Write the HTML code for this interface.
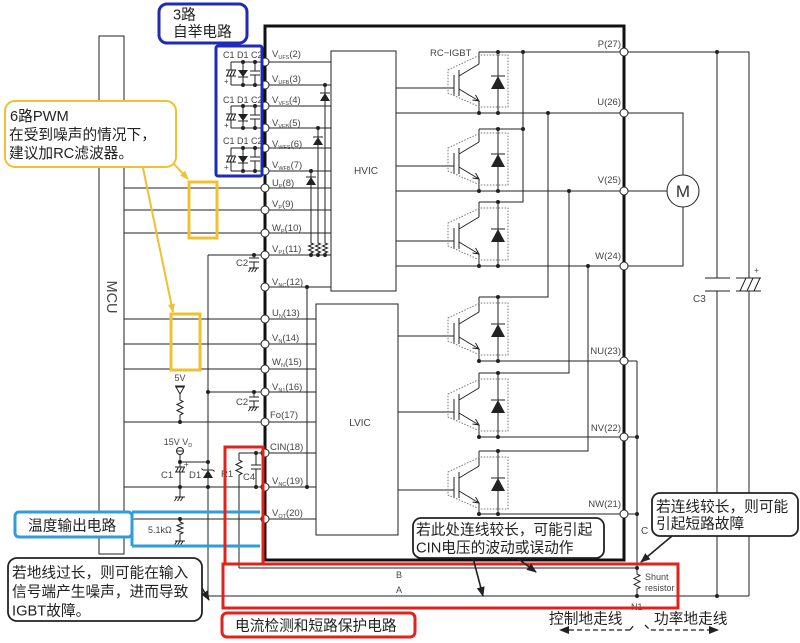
<!DOCTYPE html>
<html><head><meta charset="utf-8"><style>
html,body{margin:0;padding:0;background:#fff;}
svg{display:block;}
.cj{font-family:"Liberation Sans","Noto Sans CJK SC",sans-serif;font-size:14.7px;fill:#222;}
.lb{font-family:"Liberation Sans",sans-serif;font-size:9.5px;fill:#444;}
</style></head><body>
<svg width="800" height="643" viewBox="0 0 800 643" xmlns="http://www.w3.org/2000/svg">
<defs>
<marker id="ab" markerWidth="10" markerHeight="8" refX="9" refY="4" orient="auto" markerUnits="userSpaceOnUse"><path d="M0 0L10 4L0 8Z" fill="#222"/></marker>
<marker id="ay" markerWidth="9" markerHeight="7" refX="8" refY="3.5" orient="auto" markerUnits="userSpaceOnUse"><path d="M0 0L9 3.5L0 7Z" fill="#f0c030"/></marker>
<g id="ig">
<path d="M454 -13V8M459 -18V8M459 -12L479 -24M459 1L479 13M491 -12H505M472.5 12L479 13L475.5 7" fill="none" stroke="#222" stroke-width="1"/>
<path d="M491 1H505L498 -12Z" fill="#222"/>
<path d="M448 -18L480 -33H508V19H480L448 5Z" fill="none" stroke="#777" stroke-width="1" stroke-dasharray="1.5 1.5"/>
</g>
</defs>
<rect width="800" height="643" fill="#fff"/>

<!-- thin wiring -->
<g stroke="#222" stroke-width="1" fill="none">
<rect x="99" y="36" width="25" height="518"/>
<rect x="331" y="51" width="65" height="240"/>
<rect x="316" y="304" width="82" height="231"/>
<!-- pin lines 2-7 -->
<path d="M231 62H331M231 85H331M231 106H331M231 128H331M231 148H331M231 171H331"/>
<!-- MCU lines -->
<path d="M124 188H331M124 210H331M124 233H331M124 319H316M124 344H316M124 369H316M124 422H316M124 487H316M124 519H316"/>
<path d="M208 255H331M265 287H331M208 392H316M239 453H316"/>
<path d="M208 255V470M208 478V596M307 287V487"/>
<!-- bootstrap diode columns -->
<path d="M325 85V243l2.5 1l-5 2l5 2l-5 2l5 2l-2.5 1V255M318 128V243l2.5 1l-5 2l5 2l-5 2l5 2l-2.5 1V255M311 171V243l2.5 1l-5 2l5 2l-5 2l5 2l-2.5 1V255"/>
<path d="M320 93H330M313 137H323M306 177H316"/>
<!-- bootstrap groups -->
<path d="M231 62V70M231 76V85M226 70H236M226 76H236M227 76L229.5 70M230 76L232.5 70M233 76L235.5 70M243 62V85M238 77H248M255 62V71M255 75V85M250 71H260M250 75H260"/>
<path d="M231 106V114M231 120V128M226 114H236M226 120H236M227 120L229.5 114M230 120L232.5 114M233 120L235.5 114M243 106V128M238 121H248M255 106V115M255 119V128M250 115H260M250 119H260"/>
<path d="M231 148V156M231 162V171M226 156H236M226 162H236M227 162L229.5 156M230 162L232.5 156M233 162L235.5 156M243 148V171M238 163H248M255 148V157M255 161V171M250 157H260M250 161H260"/>
<!-- C2s -->
<path d="M254 255V258M249 258H259M249 262H259M254 262V268M249 268H259M251 268l-2.5 4M254 268l-2.5 4M257 268l-2.5 4"/>
<path d="M254 392V397M249 397H259M249 401H259M254 401V407M249 407H259M251 407l-2.5 4M254 407l-2.5 4M257 407l-2.5 4"/>
<!-- 5V -->
<path d="M175 386H185M176 387H184L180 394ZM180 394V400l3 1.5l-6 3l6 3l-6 3l6 3l-3 1.5V422"/>
<!-- 15V VD, C1, D1 -->
<circle cx="180" cy="451" r="3.5"/>
<path d="M176.5 451H183.5M180 454.5V462H208M180 462V467M175 467H185M175 472H185M176 472L178.5 467M179 472L181.5 467M182 472L184.5 467M180 472V497M175 497H185M177 497l-2.5 4M180 497l-2.5 4M183 497l-2.5 4"/>
<path d="M203 470H213M203 470l-1.5-1.5M213 470l1.5 1.5"/>
<!-- 5.1k -->
<path d="M180 519V522l3 1.2l-6 2.4l6 2.4l-6 2.4l6 2.4l-3 1.2V541M175 541H185M177 541l-2.5 4M180 541l-2.5 4M183 541l-2.5 4"/>
<!-- R1 C4 -->
<path d="M239 453V460l3 1.5l-6 3l6 3l-6 3l6 3l-3 1.5V568M256 453V465M251 465H261M251 469H261M256 469V487"/>
<!-- bottom lines -->
<path d="M239 568H637M208 596H749M637 361V574l3 1.5l-6 3l6 3l-6 3l6 3l-3 1.5V596"/>
<!-- gate lines -->
<path d="M396 88H454M396 166H454M396 241H454M398 336H454M398 412H454M398 490H454"/>
<!-- power lines -->
<path d="M479 52H749V278M749 291V596M717 52V278M717 291V596M705 278H730M705 291H730M736 278H761M736 291H761M740 291L746 278M747 291L753 278M754 291L760 278"/>
<path d="M396 113H683V175M396 191H667M396 266H683V207"/>
<path d="M479 129H523M523 52V202H479M548 113V297H479M569 191V373H479M588 266V451H479"/>
<path d="M479 361H637M479 437H637M479 514H637"/>
<path d="M479 52V64M479 101V113M498 52V113M479 129V142M479 179V191M498 129V191M479 202V217M479 254V266M498 202V266M479 297V312M479 349V361M498 297V361M479 373V388M479 425V437M498 373V437M479 451V466M479 503V514M498 451V514"/>
<circle cx="683" cy="191" r="16"/>
</g>
<!-- filled diode triangles -->
<g fill="#222">
<path d="M320 101H330L325 93ZM313 145H323L318 137ZM306 185H316L311 177Z"/>
<path d="M238 70H248L243 77ZM238 114H248L243 121ZM238 156H248L243 163Z"/>
<path d="M203 478H213L208 470Z"/>
</g>
<use href="#ig" transform="translate(0,88)"/>
<use href="#ig" transform="translate(0,166)"/>
<use href="#ig" transform="translate(0,241)"/>
<use href="#ig" transform="translate(0,336)"/>
<use href="#ig" transform="translate(0,412)"/>
<use href="#ig" transform="translate(0,490)"/>

<!-- module thick box -->
<rect x="265" y="26" width="359" height="534" fill="none" stroke="#111" stroke-width="3"/>

<!-- dots -->
<g fill="#222">
<circle cx="243" cy="62" r="2"/><circle cx="255" cy="62" r="2"/><circle cx="243" cy="85" r="2"/><circle cx="255" cy="85" r="2"/>
<circle cx="243" cy="106" r="2"/><circle cx="255" cy="106" r="2"/><circle cx="243" cy="128" r="2"/><circle cx="255" cy="128" r="2"/>
<circle cx="243" cy="148" r="2"/><circle cx="255" cy="148" r="2"/><circle cx="243" cy="171" r="2"/><circle cx="255" cy="171" r="2"/>
<circle cx="325" cy="85" r="2"/><circle cx="318" cy="128" r="2"/><circle cx="311" cy="171" r="2"/>
<circle cx="311" cy="255" r="2"/><circle cx="318" cy="255" r="2"/><circle cx="325" cy="255" r="2"/>
<circle cx="254" cy="255" r="2"/><circle cx="307" cy="287" r="2"/><circle cx="307" cy="487" r="2"/>
<circle cx="208" cy="392" r="2"/><circle cx="254" cy="392" r="2"/><circle cx="180" cy="422" r="2"/>
<circle cx="180" cy="462" r="2"/><circle cx="208" cy="462" r="2"/><circle cx="180" cy="487" r="2"/><circle cx="208" cy="487" r="2"/>
<circle cx="256" cy="453" r="2"/><circle cx="256" cy="487" r="2"/><circle cx="180" cy="519" r="2"/>
<circle cx="498" cy="52" r="2"/><circle cx="523" cy="52" r="2"/><circle cx="523" cy="129" r="2"/><circle cx="498" cy="129" r="2"/>
<circle cx="479" cy="113" r="2"/><circle cx="498" cy="113" r="2"/><circle cx="548" cy="113" r="2"/>
<circle cx="479" cy="191" r="2"/><circle cx="498" cy="191" r="2"/><circle cx="569" cy="191" r="2"/>
<circle cx="498" cy="202" r="2"/><circle cx="479" cy="266" r="2"/><circle cx="498" cy="266" r="2"/><circle cx="588" cy="266" r="2"/>
<circle cx="498" cy="297" r="2"/><circle cx="479" cy="361" r="2"/><circle cx="498" cy="361" r="2"/>
<circle cx="498" cy="373" r="2"/><circle cx="479" cy="437" r="2"/><circle cx="498" cy="437" r="2"/><circle cx="637" cy="437" r="2"/>
<circle cx="498" cy="451" r="2"/><circle cx="479" cy="514" r="2"/><circle cx="498" cy="514" r="2"/><circle cx="637" cy="514" r="2"/>
<circle cx="717" cy="52" r="2"/><circle cx="637" cy="568" r="2"/><circle cx="637" cy="596" r="2"/><circle cx="717" cy="596" r="2"/>
</g>

<!-- pin circles -->
<g fill="#fff" stroke="#222" stroke-width="1">
<circle cx="265" cy="62" r="4"/><circle cx="265" cy="85" r="4"/><circle cx="265" cy="106" r="4"/><circle cx="265" cy="128" r="4"/>
<circle cx="265" cy="148" r="4"/><circle cx="265" cy="171" r="4"/><circle cx="265" cy="188" r="4"/><circle cx="265" cy="210" r="4"/>
<circle cx="265" cy="233" r="4"/><circle cx="265" cy="255" r="4"/><circle cx="265" cy="287" r="4"/><circle cx="265" cy="319" r="4"/>
<circle cx="265" cy="344" r="4"/><circle cx="265" cy="369" r="4"/><circle cx="265" cy="392" r="4"/><circle cx="265" cy="422" r="4"/>
<circle cx="265" cy="453" r="4"/><circle cx="265" cy="487" r="4"/><circle cx="265" cy="519" r="4"/>
<circle cx="624" cy="52" r="4"/><circle cx="624" cy="113" r="4"/><circle cx="624" cy="191" r="4"/><circle cx="624" cy="266" r="4"/>
<circle cx="624" cy="361" r="4"/><circle cx="624" cy="437" r="4"/><circle cx="624" cy="514" r="4"/>
</g>

<!-- pin labels -->
<g class="lb">
<text x="272" y="57">V<tspan font-size="5.5" dy="2">UFS</tspan><tspan dy="-2">(2)</tspan></text>
<text x="272" y="82">V<tspan font-size="5.5" dy="2">UFB</tspan><tspan dy="-2">(3)</tspan></text>
<text x="272" y="103">V<tspan font-size="5.5" dy="2">VFS</tspan><tspan dy="-2">(4)</tspan></text>
<text x="272" y="126">V<tspan font-size="5.5" dy="2">VFB</tspan><tspan dy="-2">(5)</tspan></text>
<text x="272" y="147">V<tspan font-size="5.5" dy="2">WFS</tspan><tspan dy="-2">(6)</tspan></text>
<text x="272" y="168">V<tspan font-size="5.5" dy="2">WFB</tspan><tspan dy="-2">(7)</tspan></text>
<text x="272" y="186">U<tspan font-size="5.5" dy="2">P</tspan><tspan dy="-2">(8)</tspan></text>
<text x="272" y="207">V<tspan font-size="5.5" dy="2">P</tspan><tspan dy="-2">(9)</tspan></text>
<text x="272" y="231">W<tspan font-size="5.5" dy="2">P</tspan><tspan dy="-2">(10)</tspan></text>
<text x="272" y="252">V<tspan font-size="5.5" dy="2">P1</tspan><tspan dy="-2">(11)</tspan></text>
<text x="272" y="285">V<tspan font-size="5.5" dy="2">NC</tspan><tspan dy="-2">(12)</tspan></text>
<text x="272" y="316">U<tspan font-size="5.5" dy="2">N</tspan><tspan dy="-2">(13)</tspan></text>
<text x="272" y="341">V<tspan font-size="5.5" dy="2">N</tspan><tspan dy="-2">(14)</tspan></text>
<text x="272" y="365">W<tspan font-size="5.5" dy="2">N</tspan><tspan dy="-2">(15)</tspan></text>
<text x="272" y="390">V<tspan font-size="5.5" dy="2">N1</tspan><tspan dy="-2">(16)</tspan></text>
<text x="270" y="418">Fo(17)</text>
<text x="270" y="450">CIN(18)</text>
<text x="272" y="484">V<tspan font-size="5.5" dy="2">NC</tspan><tspan dy="-2">(19)</tspan></text>
<text x="272" y="516">V<tspan font-size="5.5" dy="2">OT</tspan><tspan dy="-2">(20)</tspan></text>
<text x="621" y="47" text-anchor="end">P(27)</text>
<text x="621" y="105" text-anchor="end">U(26)</text>
<text x="621" y="183" text-anchor="end">V(25)</text>
<text x="621" y="259" text-anchor="end">W(24)</text>
<text x="621" y="354" text-anchor="end">NU(23)</text>
<text x="621" y="431" text-anchor="end">NV(22)</text>
<text x="621" y="507" text-anchor="end">NW(21)</text>
<text x="223" y="58" font-size="9">C1 D1 C2</text>
<text x="223" y="103" font-size="9">C1 D1 C2</text>
<text x="223" y="144" font-size="9">C1 D1 C2</text>
<text x="224" y="84" font-size="8">+</text>
<text x="224" y="128" font-size="8">+</text>
<text x="224" y="170" font-size="8">+</text>
<text x="236" y="266">C2</text>
<text x="236" y="405">C2</text>
<text x="180" y="381" text-anchor="middle" font-size="9">5V</text>
<text x="178" y="445" text-anchor="middle" font-size="9">15V V<tspan font-size="5.5" dy="2">D</tspan></text>
<text x="184" y="467" font-size="8">+</text>
<text x="161" y="478">C1</text>
<text x="189" y="478">D1</text>
<text x="221" y="477">R1</text>
<text x="243" y="480">C4</text>
<text x="148" y="533" font-size="9">5.1kΩ</text>
<text x="430" y="56">RC−IGBT</text>
<text x="366" y="174" text-anchor="middle" font-size="10">HVIC</text>
<text x="360" y="426" text-anchor="middle" font-size="10">LVIC</text>
<text x="693" y="302" font-size="10">C3</text>
<text x="754" y="273" font-size="8">+</text>
<text x="641" y="534" font-size="10">C</text>
<text x="645" y="580" font-size="9">Shunt</text>
<text x="645" y="591" font-size="9">resistor</text>
<text x="631" y="610" font-size="9">N1</text>
<text x="396" y="578" font-size="9">B</text>
<text x="396" y="593" font-size="9">A</text>
</g>
<text x="683" y="197" text-anchor="middle" font-family="Liberation Sans,sans-serif" font-size="17" fill="#333">M</text>
<text transform="translate(107,297) rotate(90)" text-anchor="middle" font-family="Liberation Sans,sans-serif" font-size="14.5" fill="#444">MCU</text>

<!-- blue -->
<g fill="none" stroke="#1f2bb5" stroke-width="3">
<rect x="159" y="4" width="88" height="39" rx="8" fill="#fff"/>
<rect x="216" y="46" width="46" height="130" rx="2"/>
</g>
<text x="173" y="19.5" class="cj">3路</text>
<text x="173" y="36.5" class="cj">自举电路</text>

<!-- yellow -->
<g fill="none" stroke="#f0c030" stroke-width="3">
<rect x="189" y="182" width="28" height="56"/>
<rect x="171" y="314" width="29" height="56"/>
</g>
<g fill="none" stroke="#f0c030" stroke-width="2">
<path d="M173 163L188 179" marker-end="url(#ay)"/>
<path d="M143 168L173 312" marker-end="url(#ay)"/>
<rect x="5" y="101" width="171" height="66" rx="10" fill="#fff"/>
</g>
<text x="10" y="121" class="cj">6路PWM</text>
<text x="9" y="139.5" class="cj">在受到噪声的情况下，</text>
<text x="9" y="158" class="cj">建议加RC滤波器。</text>

<!-- cyan -->
<g fill="none" stroke="#2f9ed6" stroke-width="3">
<path d="M132 512H260M132 546H260M132 512V546"/>
<rect x="15" y="512" width="117" height="25" rx="4" fill="#fff"/>
</g>
<text x="28" y="530.5" class="cj">温度输出电路</text>

<!-- red -->
<g fill="none" stroke="#e3221c" stroke-width="3">
<rect x="225" y="447" width="38" height="117"/>
<rect x="223" y="564" width="455" height="44"/>
<rect x="222" y="613" width="193" height="24" rx="5" fill="#fff"/>
</g>
<text x="235" y="630.5" class="cj">电流检测和短路保护电路</text>

<!-- black callouts -->
<g stroke="#222" stroke-width="1.6" fill="none">
<path d="M473 558L483 596" marker-end="url(#ab)"/>
<path d="M517 558L536 572" marker-end="url(#ab)"/>
<path d="M672 536L641 562" marker-end="url(#ab)"/>
<path d="M202 588L209 600" marker-end="url(#ab)"/>
</g>
<g stroke="#222" stroke-width="1.8" fill="#fff">
<rect x="8" y="558" width="194" height="63" rx="9"/>
<rect x="413" y="518" width="191" height="40" rx="8"/>
<rect x="652" y="493" width="146" height="43" rx="8"/>
</g>
<text x="12" y="577.5" class="cj">若地线过长，则可能在输入</text>
<text x="12" y="596.5" class="cj">信号端产生噪声，进而导致</text>
<text x="12" y="615.5" class="cj">IGBT故障。</text>
<text x="416" y="534.5" class="cj">若此处连线较长，可能引起</text>
<text x="416" y="552.5" class="cj">CIN电压的波动或误动作</text>
<text x="656" y="511.5" class="cj">若连线较长，则可能</text>
<text x="656" y="528.5" class="cj">引起短路故障</text>

<!-- ground traces labels -->
<text x="549" y="623.5" class="cj">控制地走线</text>
<text x="654" y="623.5" class="cj">功率地走线</text>
<g stroke="#222" stroke-width="1.3" fill="none" stroke-dasharray="5 3">
<path d="M630 630H560" marker-end="url(#ab)"/>
<path d="M630 630L634 625"/>
<path d="M645 625L650 630H718" marker-end="url(#ab)"/>
</g>
</svg>
</body></html>
